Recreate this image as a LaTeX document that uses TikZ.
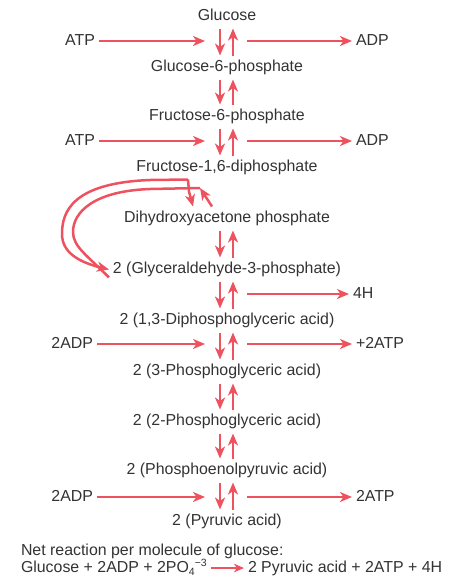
\documentclass[tikz,border=0pt]{standalone}
\usepackage{fontspec}
\setmainfont{Liberation Sans}
\usetikzlibrary{arrows.meta}
\usetikzlibrary{positioning}
\definecolor{glyred}{RGB}{238,82,94}
\definecolor{glytext}{RGB}{51,51,51}
\newcommand{\smallidx}[1]{{\fontsize{10.5}{12}\selectfont #1}}

\begin{document}
\begin{tikzpicture}[x=1pt,y=-1pt,
    every node/.style={font=\fontsize{15.9}{18}\selectfont, text=glytext, inner sep=4pt, outer sep=0pt, text height=12pt, text depth=4pt},
    met/.style={anchor=base},
    flow/.style={draw=glyred, line width=2.5pt, -{Stealth[length=12pt,width=10pt,inset=3.5pt]}},
    glyline/.style={draw=glyred, line width=2.5pt},
    netflow/.style={draw=glyred, line width=2.2pt, -{Stealth[length=10pt,width=8.5pt,inset=3pt]}}]
    \useasboundingbox (0,0) rectangle (459,584);

    % main chain
    \node (glc) [met] at (227,20.5) {Glucose};
    \node (g6p) [met] at (227,71.5) {Glucose-6-phosphate};
    \node (f6p) [met] at (227,120.5) {Fructose-6-phosphate};
    \node (fbp) [met] at (227,171.5) {Fructose-1,6-diphosphate};
    \node (dhap) [met] at (227,222.5) {Dihydroxyacetone phosphate};
    \node (gap) [met] at (227,273.5) {2 (Glyceraldehyde-3-phosphate)};
    \node (bpg) [met] at (227,324.5) {2 (1,3-Diphosphoglyceric acid)};
    \node (pga3) [met] at (227,375.5) {2 (3-Phosphoglyceric acid)};
    \node (pga2) [met] at (227,425.5) {2 (2-Phosphoglyceric acid)};
    \node (pep) [met] at (227,474.5) {2 (Phosphoenolpyruvic acid)};
    \node (pyr) [met] at (227,525.5) {2 (Pyruvic acid)};

    \foreach \a/\b in {glc/g6p, g6p/f6p, f6p/fbp, dhap/gap, gap/bpg, bpg/pga3, pga3/pga2, pga2/pep, pep/pyr} {
        \draw[flow] ([xshift=-7]\a.south) -- ([xshift=-7]\b.north);
        \draw[flow] ([xshift=6]\b.north) -- ([xshift=6]\a.south);
    }

    % side reactants and products
    \node (atpA) [met] at (80,45) {ATP};
    \node (adpA) [met, anchor=base west] at (352,45) {ADP};
    \node (atpB) [met] at (80,145) {ATP};
    \node (adpB) [met, anchor=base west] at (352,145) {ADP};
    \node (hyd) [met, anchor=base west] at (349,298) {4H};
    \node (adpC) [met, anchor=base east] at (97,348) {2ADP};
    \node (atpC) [met, anchor=base west] at (352,348) {+2ATP};
    \node (adpD) [met, anchor=base east] at (97,501) {2ADP};
    \node (atpD) [met, anchor=base west] at (352,501) {2ATP};

    \coordinate (inA) at (205,41);
    \coordinate (outA) at (247,41);
    \coordinate (inB) at (205,141);
    \coordinate (outB) at (247,141);
    \coordinate (outH) at (247,294);
    \coordinate (inC) at (205,344);
    \coordinate (outC) at (247,344);
    \coordinate (inD) at (205,497);
    \coordinate (outD) at (247,497);

    \draw[flow] (atpA) -- (inA);
    \draw[flow] (outA) -- (adpA);
    \draw[flow] (atpB) -- (inB);
    \draw[flow] (outB) -- (adpB);
    \draw[flow] (outH) -- (hyd);
    \draw[flow] (adpC) -- (inC);
    \draw[flow] (outC) -- (atpC);
    \draw[flow] (adpD) -- (inD);
    \draw[flow] (outD) -- (atpD);

    % split into the two trioses
    \coordinate (split) at ([xshift=-39]fbp.south);
    \coordinate (join) at (200,188);
    \draw[flow] (split) -- ++(1,12) -- ([xshift=-34]dhap.north);
    \draw[flow] (split) -- (150,180) .. controls (72,183) and (62,212) .. (62,234)
        .. controls (62,252) and (78,262) .. (gap.west);
    \draw[flow] ([xshift=-15]dhap.north) -- (join);
    \draw[glyline] (join) -- (150,189) .. controls (94,191) and (73,212) .. (73,232)
        .. controls (73,247) and (88,256) .. ([yshift=-8]gap.west);

    % net reaction
    \node (net) [anchor=base west] at (17,555) {Net reaction per molecule of glucose:};
    \node (lhs) [anchor=base west] at (17,572) {Glucose + 2ADP + 2PO\raisebox{-3.5pt}{\smallidx{4}}\raisebox{5.5pt}{\smallidx{−3}}};
    \node (rhs) [anchor=base west] at (244,572) {2 Pyruvic acid + 2ATP + 4H};
    \draw[netflow] (lhs) -- (rhs);
\end{tikzpicture}
\end{document}
